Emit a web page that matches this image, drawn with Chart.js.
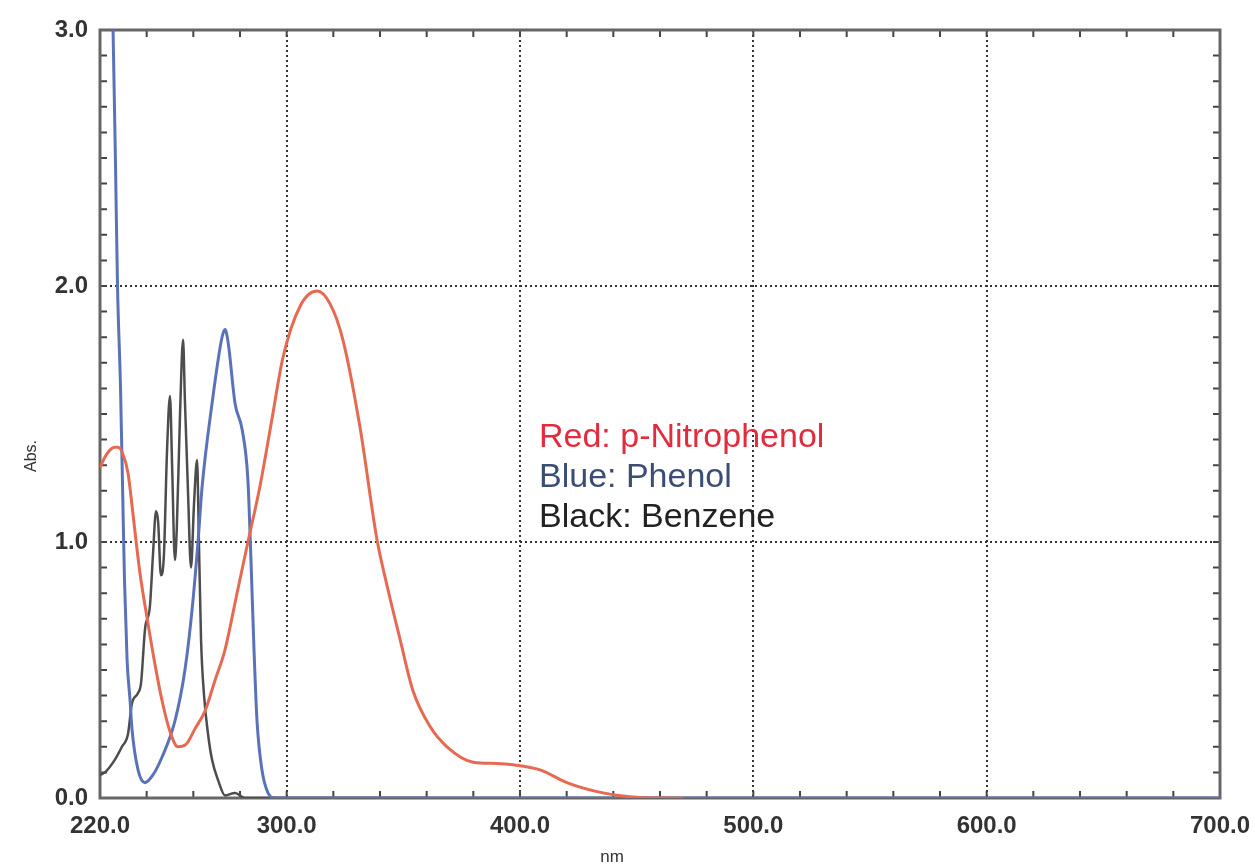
<!DOCTYPE html>
<html>
<head>
<meta charset="utf-8">
<script src="https://cdn.jsdelivr.net/npm/chart.js@4.4.1/dist/chart.umd.min.js"></script>
<style>
  body { margin: 0; background: #fff; }
  #wrap { width: 1255px; height: 866px; }
</style>
</head>
<body>
<div id="wrap"><canvas id="chart-uv" width="1255" height="866"></canvas></div>
<script>
// wavelength (nm) / absorbance pairs
const nitroNm  = [220, 222, 224.3, 226.4, 227.7, 229.5, 232, 234, 235.5, 237.1, 240.6, 243.6, 246.6, 250, 253.4, 256.9, 260.7, 265, 269.3, 273.6, 278.5, 283.4, 288.6, 293.5, 298.4, 305.7, 313, 318.6, 324.1, 331.4, 338.7, 343, 348.6, 354.1, 361.4, 368.7, 379.9, 390, 397, 408.6, 420.1, 433, 447.1, 460, 470];
const nitroAbs = [1.29, 1.33, 1.36, 1.37, 1.37, 1.35, 1.27, 1.12, 1.0, 0.88, 0.68, 0.52, 0.38, 0.26, 0.20, 0.21, 0.27, 0.34, 0.46, 0.58, 0.79, 1.0, 1.22, 1.47, 1.72, 1.92, 1.98, 1.93, 1.79, 1.45, 1.01, 0.83, 0.62, 0.42, 0.28, 0.2, 0.14, 0.135, 0.13, 0.11, 0.06, 0.025, 0.005, 0.0, 0.0];

const phenolNm  = [225.2, 225.8, 226.6, 227.5, 228.8, 229.7, 230.5, 231.6, 232.9, 233.7, 236.3, 239.3, 242.7, 246.6, 252.1, 256.4, 259.4, 262, 263.7, 268, 272.3, 273.6, 274.9, 277.9, 280.9, 283.4, 284.7, 286, 287.3, 289.4, 292, 295, 700];
const phenolAbs = [3.2, 2.9, 2.5, 2.0, 1.6, 1.2, 0.85, 0.54, 0.38, 0.27, 0.11, 0.06, 0.09, 0.16, 0.3, 0.5, 0.73, 1.0, 1.21, 1.54, 1.8, 1.83, 1.78, 1.54, 1.44, 1.24, 0.93, 0.58, 0.3, 0.11, 0.02, 0.0, 0.0];

const benzeneNm  = [220, 222.1, 226.4, 229.4, 232, 233.7, 236.3, 237.6, 239.3, 241.4, 242.7, 244, 244.9, 246.1, 247.4, 248.7, 250, 250.9, 252.1, 252.9, 254.3, 255.6, 256.4, 257.7, 259, 260.3, 261.6, 262.4, 263.3, 264.6, 266.3, 268, 270.6, 273.6, 277.9, 282.1, 360];
const benzeneAbs = [0.09, 0.1, 0.15, 0.2, 0.25, 0.37, 0.41, 0.45, 0.66, 0.75, 0.95, 1.12, 1.08, 0.87, 0.95, 1.35, 1.57, 1.3, 0.93, 1.05, 1.5, 1.79, 1.55, 1.2, 0.9, 1.15, 1.32, 1.0, 0.62, 0.4, 0.25, 0.15, 0.07, 0.01, 0.02, 0.0, 0.0];

const xMin = 220, xMax = 700, xStep = 20;
const yMin = 0, yMax = 3, yStep = 0.1;

const legendLines = [
    { text: 'Red: p-Nitrophenol', color: '#e32b3e' },
    { text: 'Blue: Phenol', color: '#3c4d74' },
    { text: 'Black: Benzene', color: '#222222' }
];

const toPoints = (xs, ys) => xs.map((v, i) => ({ x: v, y: ys[i] }));

const isMajorX = v => v === xMin || v % 100 === 0;
const isMajorY = v => Math.abs(v - Math.round(v)) < 1e-6;

// frame, inward minor ticks, legend text and axis titles
const framePlugin = {
    id: 'framePlugin',
    beforeDatasetsDraw(chart) {
        const { ctx, chartArea: a, scales: { x, y } } = chart;
        ctx.save();
        ctx.strokeStyle = '#444';
        ctx.lineWidth = 2;
        ctx.beginPath();
        x.ticks.forEach(t => {
            const px = x.getPixelForValue(t.value);
            ctx.moveTo(px, a.bottom); ctx.lineTo(px, a.bottom - 7);
            ctx.moveTo(px, a.top); ctx.lineTo(px, a.top + 7);
        });
        y.ticks.forEach(t => {
            const py = y.getPixelForValue(t.value);
            ctx.moveTo(a.left, py); ctx.lineTo(a.left + 7, py);
            ctx.moveTo(a.right, py); ctx.lineTo(a.right - 7, py);
        });
        ctx.stroke();
        ctx.strokeStyle = '#666';
        ctx.lineWidth = 3;
        ctx.strokeRect(a.left, a.top, a.width, a.height);
        ctx.restore();
    },
    afterDraw(chart) {
        const { ctx } = chart;
        ctx.save();
        ctx.font = '34px "Liberation Sans", Arial, sans-serif';
        ctx.textBaseline = 'alphabetic';
        legendLines.forEach((l, i) => {
            ctx.fillStyle = l.color;
            ctx.fillText(l.text, 539, 447 + i * 40);
        });
        ctx.fillStyle = '#333';
        ctx.font = '17px "Liberation Sans", Arial, sans-serif';
        ctx.textAlign = 'center';
        ctx.fillText('nm', 612, 862);
        ctx.translate(36, 456);
        ctx.rotate(-Math.PI / 2);
        ctx.font = '16px "Liberation Sans", Arial, sans-serif';
        ctx.fillText('Abs.', 0, 0);
        ctx.restore();
    }
};

const tickFont = { family: '"Liberation Sans", Arial, sans-serif', size: 24, weight: 'bold' };

const renderChart = () => {
    const ctx = document.getElementById('chart-uv').getContext('2d');
    new Chart(ctx, {
        type: 'line',
        data: {
            datasets: [
                { label: 'p-Nitrophenol', data: toPoints(nitroNm, nitroAbs), borderColor: '#e66a52', borderWidth: 3 },
                { label: 'Phenol', data: toPoints(phenolNm, phenolAbs), borderColor: '#5a73b8', borderWidth: 3 },
                { label: 'Benzene', data: toPoints(benzeneNm, benzeneAbs), borderColor: '#4d4d4d', borderWidth: 2.5 }
            ]
        },
        options: {
            responsive: false,
            animation: false,
            parsing: false,
            elements: {
                point: { radius: 0 },
                line: { cubicInterpolationMode: 'monotone' }
            },
            layout: { padding: { top: 30, right: 35, left: 0, bottom: 0 } },
            plugins: {
                legend: { display: false },
                tooltip: { enabled: false }
            },
            scales: {
                x: {
                    type: 'linear',
                    min: xMin,
                    max: xMax,
                    afterFit: scale => {
                        scale.height = 68;
                        scale.paddingLeft = 0;
                        scale.paddingRight = 0;
                    },
                    grid: {
                        color: c => c.tick && isMajorX(c.tick.value) ? '#333' : 'rgba(0,0,0,0)',
                        lineWidth: 2,
                        drawTicks: false
                    },
                    border: { display: false, dash: [2, 3] },
                    ticks: {
                        stepSize: xStep,
                        autoSkip: false,
                        maxRotation: 0,
                        padding: 14,
                        color: '#333',
                        font: tickFont,
                        callback: v => isMajorX(v) ? v.toFixed(1) : ''
                    }
                },
                y: {
                    min: yMin,
                    max: yMax,
                    afterFit: scale => {
                        scale.width = 100;
                        scale.paddingTop = 0;
                        scale.paddingBottom = 0;
                    },
                    grid: {
                        color: c => c.tick && isMajorY(c.tick.value) ? '#333' : 'rgba(0,0,0,0)',
                        lineWidth: 2,
                        drawTicks: false
                    },
                    border: { display: false, dash: [2, 3] },
                    ticks: {
                        stepSize: yStep,
                        autoSkip: false,
                        padding: 12,
                        color: '#333',
                        font: tickFont,
                        callback: v => isMajorY(v) ? v.toFixed(1) : ''
                    }
                }
            }
        },
        plugins: [framePlugin]
    });
};

document.addEventListener('DOMContentLoaded', renderChart);
</script>
</body>
</html>
